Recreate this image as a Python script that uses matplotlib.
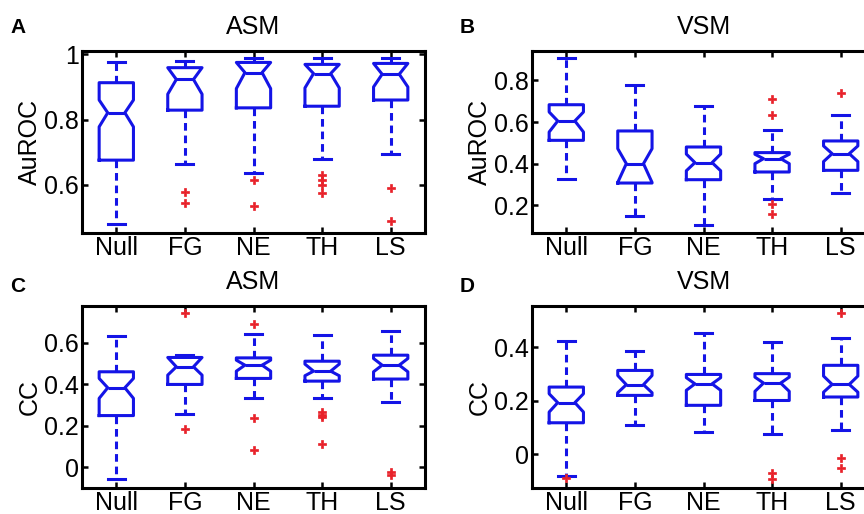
import matplotlib
matplotlib.use("Agg")
import matplotlib.pyplot as plt

plt.rcParams["font.family"] = ["Liberation Sans", "DejaVu Sans"]

categories = ["Null", "FG", "NE", "TH", "LS"]

# Panel A: ASM, AuROC
a_q1 = [0.676, 0.829, 0.836, 0.841, 0.860]
a_med = [0.821, 0.923, 0.944, 0.941, 0.939]
a_q3 = [0.913, 0.959, 0.975, 0.969, 0.972]
a_cilo = [0.778, 0.878, 0.895, 0.897, 0.900]
a_cihi = [0.860, 0.959, 0.975, 0.969, 0.972]
a_whislo = [0.481, 0.663, 0.636, 0.681, 0.694]
a_whishi = [0.976, 0.979, 0.990, 0.989, 0.989]
a_fliers = [[], [0.578, 0.544], [0.615, 0.537],
            [0.630, 0.615, 0.600, 0.575], [0.592, 0.491]]

# Panel B: VSM, AuROC
b_q1 = [0.512, 0.307, 0.323, 0.360, 0.368]
b_med = [0.605, 0.400, 0.405, 0.424, 0.448]
b_q3 = [0.683, 0.557, 0.480, 0.453, 0.509]
b_cilo = [0.552, 0.310, 0.366, 0.400, 0.410]
b_cihi = [0.648, 0.472, 0.446, 0.445, 0.485]
b_whislo = [0.328, 0.147, 0.107, 0.232, 0.259]
b_whishi = [0.907, 0.779, 0.678, 0.560, 0.632]
b_fliers = [[], [], [], [0.709, 0.632, 0.205, 0.160], [0.739]]

# Panel C: ASM, CC
c_q1 = [0.248, 0.398, 0.427, 0.414, 0.424]
c_med = [0.382, 0.483, 0.491, 0.462, 0.491]
c_q3 = [0.459, 0.528, 0.526, 0.510, 0.539]
c_cilo = [0.331, 0.443, 0.462, 0.440, 0.459]
c_cihi = [0.427, 0.528, 0.515, 0.496, 0.523]
c_whislo = [-0.058, 0.256, 0.334, 0.334, 0.315]
c_whishi = [0.632, 0.542, 0.640, 0.634, 0.654]
c_fliers = [[], [0.742, 0.182], [0.691, 0.238, 0.080],
            [0.264, 0.251, 0.240, 0.110], [-0.024, -0.037]]

# Panel D: VSM, CC
d_q1 = [0.118, 0.220, 0.183, 0.201, 0.214]
d_med = [0.193, 0.260, 0.263, 0.266, 0.261]
d_q3 = [0.251, 0.313, 0.298, 0.301, 0.332]
d_cilo = [0.158, 0.230, 0.239, 0.235, 0.232]
d_cihi = [0.226, 0.294, 0.286, 0.288, 0.292]
d_whislo = [-0.082, 0.108, 0.083, 0.075, 0.092]
d_whishi = [0.421, 0.385, 0.453, 0.419, 0.435]
d_fliers = [[-0.088], [], [], [-0.068, -0.091], [0.527, -0.012, -0.050]]

panels = [
    ("A", "ASM", "AuROC", (a_q1, a_med, a_q3, a_cilo, a_cihi, a_whislo, a_whishi, a_fliers),
     (0.453, 1.01), [0.6, 0.8, 1.0]),
    ("B", "VSM", "AuROC", (b_q1, b_med, b_q3, b_cilo, b_cihi, b_whislo, b_whishi, b_fliers),
     (0.067, 0.941), [0.2, 0.4, 0.6, 0.8]),
    ("C", "ASM", "CC", (c_q1, c_med, c_q3, c_cilo, c_cihi, c_whislo, c_whishi, c_fliers),
     (-0.101, 0.776), [0.0, 0.2, 0.4, 0.6]),
    ("D", "VSM", "CC", (d_q1, d_med, d_q3, d_cilo, d_cihi, d_whislo, d_whishi, d_fliers),
     (-0.125, 0.553), [0.0, 0.2, 0.4]),
]

W, H = 864, 514
fig = plt.figure(figsize=(W / 100, H / 100), dpi=100)

# axes rectangles in pixels: left, top, right, bottom
rects = [(82, 51, 425, 233), (532, 51, 875, 233),
         (82, 306, 425, 488), (532, 306, 875, 488)]

blue = "#1414e6"
red = "#e8222a"
fs = 18

for (letter, title, ylabel, stats_lists, ylim, yticks), (l, t, r, b) in zip(panels, rects):
    ax = fig.add_axes([l / W, 1 - b / H, (r - l) / W, (b - t) / H])
    q1, med, q3, cilo, cihi, wlo, whi, fl = stats_lists
    stats = []
    for i, name in enumerate(categories):
        stats.append(dict(label=name, q1=q1[i], med=med[i], q3=q3[i],
                          cilo=cilo[i], cihi=cihi[i], whislo=wlo[i],
                          whishi=whi[i], fliers=fl[i]))
    ax.bxp(stats, positions=range(1, 6), widths=0.5, shownotches=True,
           boxprops=dict(color=blue, linewidth=2.2),
           medianprops=dict(color=blue, linewidth=2.2),
           whiskerprops=dict(color=blue, linewidth=2.2, linestyle=(0, (2.5, 1.6))),
           capprops=dict(color=blue, linewidth=2.2),
           flierprops=dict(marker="P", markerfacecolor=red, markeredgecolor=red,
                           markersize=6, markeredgewidth=0.5))
    ax.set_xlim(0.5, 5.5)
    ax.set_ylim(*ylim)
    ax.set_yticks(yticks)
    ax.set_yticklabels([f"{v:g}" for v in yticks])
    ax.set_xticks(range(1, 6))
    ax.set_xticklabels(categories)
    ax.tick_params(direction="in", length=4, width=1.8, top=True, right=True,
                   labelsize=fs, pad=2, colors="black")
    for sp in ax.spines.values():
        sp.set_linewidth(2.2)
    ax.set_title(title, fontsize=fs, pad=12)
    ax.set_ylabel(ylabel, fontsize=fs, labelpad=2)
    fig.text((l - 72) / W, 1 - 33 / H if t < 100 else 1 - 292 / H, letter,
             fontsize=15, fontweight="bold", ha="left", va="baseline")

fig.savefig("out.png", dpi=100)
